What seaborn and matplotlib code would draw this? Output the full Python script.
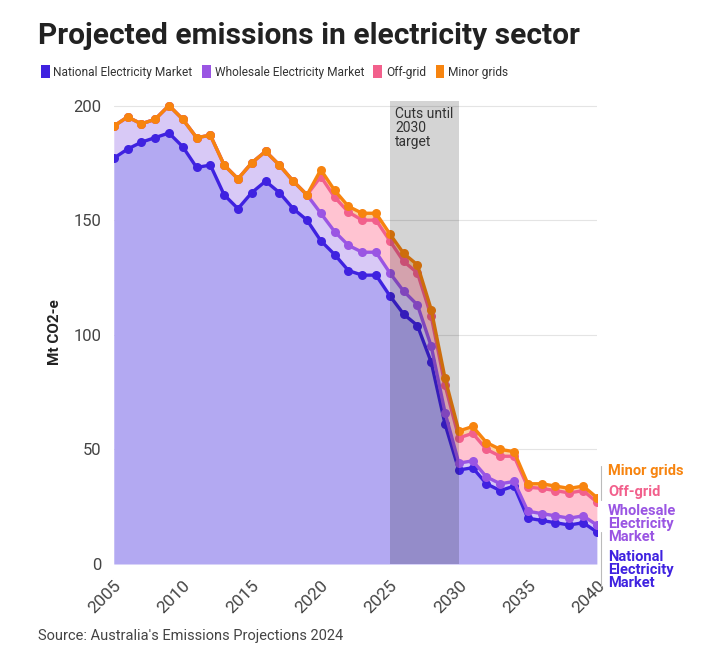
import matplotlib
matplotlib.use("Agg")
import matplotlib.pyplot as plt
from matplotlib.patches import Patch
from matplotlib.lines import Line2D
import numpy as np
import pandas as pd
import seaborn as sns

# ------------------------------------------------------------
# Data (Mt CO2-e)
# ------------------------------------------------------------
years = list(range(2005, 2041))
nem = [177, 181, 184, 186, 188, 182, 173, 174, 161, 155, 162, 167, 162, 155, 150,
       141, 135, 128, 126, 126, 117, 109, 104, 88, 61, 41, 42, 35, 32, 34,
       20, 19, 18, 17, 18, 14]
wem = [14, 14, 8, 8, 12, 12, 13, 13, 13, 13, 13, 13, 12, 12, 11,
       12, 10, 11, 10, 10, 10, 10, 9, 7, 5, 3, 3, 3, 3, 2,
       3, 3, 3, 3, 3, 3]
off_grid = [0, 0, 0, 0, 0, 0, 0, 0, 0, 0, 0, 0, 0, 0, 0,
            16, 15, 14.5, 14, 14, 14, 13, 14, 13, 12, 11, 12, 12, 12, 11,
            10.5, 11, 11, 11, 11, 10]
minor_grids = [0, 0, 0, 0, 0, 0, 0, 0, 0, 0, 0, 0, 0, 0, 0,
               3, 3, 2.5, 3, 3, 3, 3.5, 3.5, 3, 3, 3, 3, 3, 3, 2,
               1.5, 2, 2, 2, 2, 2]

series = ["National Electricity Market", "Wholesale Electricity Market", "Off-grid", "Minor grids"]
line_colors = ["#3f22e0", "#9a55e3", "#f2608c", "#f7840f"]
fill_colors = ["#b3a9f2", "#d8c9f6", "#ffc3d1", "#fbd2a6"]
short_labels = ["National\nElectricity\nMarket", "Wholesale\nElectricity\nMarket", "Off-grid", "Minor grids"]

# stacked tops
stack = np.cumsum(np.array([nem, wem, off_grid, minor_grids], dtype=float), axis=0)
long = pd.concat(
    [pd.DataFrame({"year": years, "top": stack[i], "series": name}) for i, name in enumerate(series)],
    ignore_index=True,
)

# ------------------------------------------------------------
# Plot
# ------------------------------------------------------------
sns.set_theme(style="white")
plt.rcParams["font.family"] = ["Roboto", "DejaVu Sans"]

fig = plt.figure(figsize=(7.2, 6.64), dpi=100)
ax = fig.add_axes([0.158, 0.1506, 0.671, 0.6974])

lower = np.zeros(len(years))
for i in range(4):
    ax.fill_between(years, lower, stack[i], color=fill_colors[i], lw=0, zorder=1)
    lower = stack[i]

sns.lineplot(data=long, x="year", y="top", hue="series", hue_order=series,
             palette=dict(zip(series, line_colors)), marker="o", markersize=6.5,
             markeredgewidth=0, linewidth=2.4, legend=False, ax=ax, zorder=3)

# shaded 2025-2030 band
ax.axvspan(2025, 2030, color="black", alpha=0.17, lw=0, zorder=4)
ax.text(2025.4, 199.5, "Cuts until\n2030\ntarget", va="top", ha="left",
        fontsize=10, color="#333333", linespacing=1.0, zorder=5)

ax.set_xlim(2005, 2040)
ax.set_ylim(0, 202)
ax.set_yticks([0, 50, 100, 150, 200])
ax.set_xticks(range(2005, 2041, 5))
ax.grid(axis="y", color="#e4e4e4", lw=0.8, zorder=0)
ax.set_axisbelow(True)
for s in ax.spines.values():
    s.set_visible(False)
ax.tick_params(axis="y", length=0, pad=9, labelsize=12, labelcolor="#444444")
ax.tick_params(axis="x", length=4, color="#dddddd", pad=6, labelsize=12.5, labelcolor="#444444")
for lbl in ax.get_xticklabels():
    lbl.set_rotation(45)
    lbl.set_ha("right")
    lbl.set_rotation_mode("anchor")
ax.set_xlabel("")
ax.set_ylabel("Mt CO2-e", fontsize=11, fontweight="bold", color="#222222", labelpad=8)

# right-hand labels
label_y = [550, 504, 485, 464]
for i in range(4):
    fig.text(608 / 720, 1 - label_y[i] / 664, short_labels[i], color=line_colors[i],
             fontsize=10.5, fontweight="bold", va="top", ha="left", linespacing=0.9)
for y0, y1 in [(466, 500), (532, 586)]:
    fig.add_artist(Line2D([601 / 720, 601 / 720], [1 - y0 / 664, 1 - y1 / 664],
                          color="#bbbbbb", lw=0.8, transform=fig.transFigure))

# title, legend, source
fig.text(38 / 720, 1 - 36 / 664, "Projected emissions in electricity sector",
         fontsize=21.5, fontweight="bold", color="#222222", va="center", ha="left")
handles = [Patch(facecolor=c, edgecolor="none") for c in line_colors]
fig.legend(handles, series, loc="center left", bbox_to_anchor=(30 / 720, 1 - 72 / 664),
           ncol=4, frameon=False, fontsize=8.6, handlelength=0.75, handleheight=1.2,
           handletextpad=0.3, columnspacing=0.8, labelcolor="#333333")
fig.text(38 / 720, 1 - 636 / 664, "Source: Australia's Emissions Projections 2024",
         fontsize=10.5, color="#444444", va="center", ha="left")

fig.savefig("out.png", dpi=100, facecolor="white")
